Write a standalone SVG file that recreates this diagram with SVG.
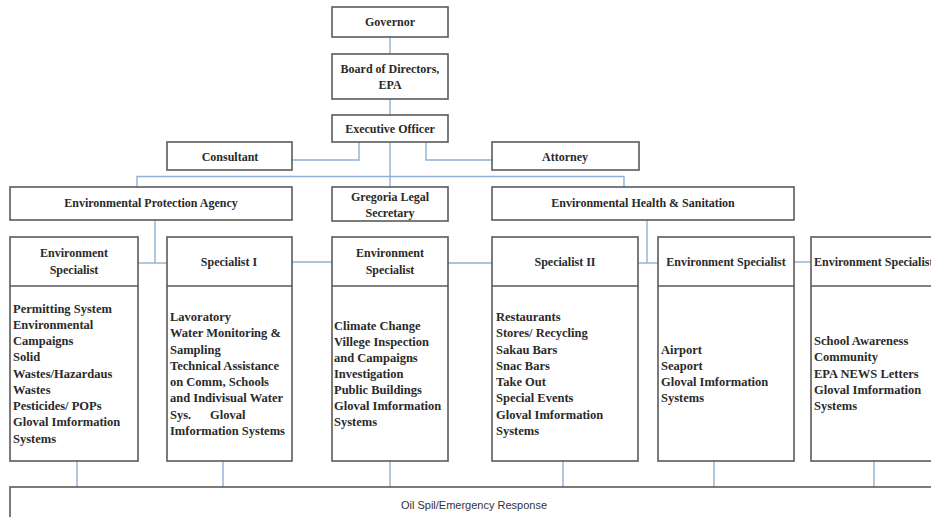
<svg xmlns="http://www.w3.org/2000/svg" width="931" height="517" viewBox="0 0 931 517">
  <style>
    .box { fill: #ffffff; stroke: #5a5a5a; stroke-width: 1.6; }
    .div { stroke: #5a5a5a; stroke-width: 1.6; }
    .link { fill: none; stroke: #8fb0d6; stroke-width: 1.4; }
    .t { font-family: "Liberation Serif", "Times New Roman", serif; font-weight: bold; font-size: 12px; fill: #2a2a2a; }
    .b { font-size: 12.5px; }
    .c { text-anchor: middle; }
    .foot { font-family: "Liberation Sans", Arial, sans-serif; font-size: 11px; fill: #333333; text-anchor: middle; }
  </style>
  <rect width="931" height="517" fill="#ffffff"/>

  <!-- connectors -->
  <g id="connectors">
    <path class="link" d="M390 37 V54"/>
    <path class="link" d="M390 99 V115"/>
    <path class="link" d="M390 142 V187"/>
    <path class="link" d="M359 142 V160 H292"/>
    <path class="link" d="M426 142 V160 H492"/>
    <path class="link" d="M137 187 V176.5 H624 V187"/>
    <path class="link" d="M155 220 V263"/>
    <path class="link" d="M138 263 H167"/>
    <path class="link" d="M292 262 H332"/>
    <path class="link" d="M448 263 H492"/>
    <path class="link" d="M647 220 V263"/>
    <path class="link" d="M638 263 H658"/>
    <path class="link" d="M794 262 H811"/>
    <path class="link" d="M77 461 V487"/>
    <path class="link" d="M223 461 V487"/>
    <path class="link" d="M390 461 V487"/>
    <path class="link" d="M563 461 V487"/>
    <path class="link" d="M714 461 V487"/>
    <path class="link" d="M874 461 V487"/>
  </g>

  <!-- top chain -->
  <g id="governor">
    <rect class="box" x="332" y="7" width="116" height="30"/>
    <text class="t c" x="390" y="26">Governor</text>
  </g>
  <g id="board">
    <rect class="box" x="332" y="54" width="116" height="45"/>
    <text class="t c" x="390" y="73">Board of Directors,</text>
    <text class="t c" x="390" y="89">EPA</text>
  </g>
  <g id="executive">
    <rect class="box" x="332" y="115" width="116" height="27"/>
    <text class="t c" x="390" y="133">Executive Officer</text>
  </g>
  <g id="consultant">
    <rect class="box" x="167" y="142" width="125" height="28"/>
    <text class="t c" x="230" y="161">Consultant</text>
  </g>
  <g id="attorney">
    <rect class="box" x="492" y="142" width="147" height="28"/>
    <text class="t c" x="565" y="161">Attorney</text>
  </g>

  <!-- departments -->
  <g id="epa">
    <rect class="box" x="10" y="187" width="282" height="33"/>
    <text class="t c" x="151" y="207">Environmental Protection Agency</text>
  </g>
  <g id="legal-secretary">
    <rect class="box" x="332" y="187" width="116" height="34"/>
    <text class="t c" x="390" y="201">Gregoria Legal</text>
    <text class="t c" x="390" y="217">Secretary</text>
  </g>
  <g id="health-sanitation">
    <rect class="box" x="492" y="187" width="302" height="33"/>
    <text class="t c" x="643" y="207">Environmental Health &amp; Sanitation</text>
  </g>

  <!-- specialist columns -->
  <g id="col1">
    <rect class="box" x="10" y="237" width="128" height="224"/>
    <line class="div" x1="10" y1="286" x2="138" y2="286"/>
    <text class="t c" x="74" y="257">Environment</text>
    <text class="t c" x="74" y="274">Specialist</text>
    <text class="t b" x="13" y="313">Permitting System</text>
    <text class="t b" x="13" y="329">Environmental</text>
    <text class="t b" x="13" y="345">Campaigns</text>
    <text class="t b" x="13" y="361">Solid</text>
    <text class="t b" x="13" y="378">Wastes/Hazardaus</text>
    <text class="t b" x="13" y="394">Wastes</text>
    <text class="t b" x="13" y="410">Pesticides/ POPs</text>
    <text class="t b" x="13" y="426">Gloval Imformation</text>
    <text class="t b" x="13" y="443">Systems</text>
  </g>
  <g id="col2">
    <rect class="box" x="167" y="237" width="125" height="224"/>
    <line class="div" x1="167" y1="286" x2="292" y2="286"/>
    <text class="t c" x="229" y="266">Specialist I</text>
    <text class="t b" x="170" y="321">Lavoratory</text>
    <text class="t b" x="170" y="337">Water Monitoring &amp;</text>
    <text class="t b" x="170" y="354">Sampling</text>
    <text class="t b" x="170" y="370">Technical Assistance</text>
    <text class="t b" x="170" y="386">on Comm, Schools</text>
    <text class="t b" x="170" y="402">and Indivisual Water</text>
    <text class="t b" x="170" y="419" xml:space="preserve">Sys.      Gloval</text>
    <text class="t b" x="170" y="435">Imformation Systems</text>
  </g>
  <g id="col3">
    <rect class="box" x="332" y="237" width="116" height="224"/>
    <line class="div" x1="332" y1="286" x2="448" y2="286"/>
    <text class="t c" x="390" y="257">Environment</text>
    <text class="t c" x="390" y="274">Specialist</text>
    <text class="t b" x="334" y="330">Climate Change</text>
    <text class="t b" x="334" y="346">Villege Inspection</text>
    <text class="t b" x="334" y="362">and Campaigns</text>
    <text class="t b" x="334" y="378">Investigation</text>
    <text class="t b" x="334" y="394">Public Buildings</text>
    <text class="t b" x="334" y="410">Gloval Imformation</text>
    <text class="t b" x="334" y="426">Systems</text>
  </g>
  <g id="col4">
    <rect class="box" x="492" y="237" width="146" height="224"/>
    <line class="div" x1="492" y1="286" x2="638" y2="286"/>
    <text class="t c" x="565" y="266">Specialist II</text>
    <text class="t b" x="496" y="321">Restaurants</text>
    <text class="t b" x="496" y="337">Stores/ Recycling</text>
    <text class="t b" x="496" y="354">Sakau Bars</text>
    <text class="t b" x="496" y="370">Snac Bars</text>
    <text class="t b" x="496" y="386">Take Out</text>
    <text class="t b" x="496" y="402">Special Events</text>
    <text class="t b" x="496" y="419">Gloval Imformation</text>
    <text class="t b" x="496" y="435">Systems</text>
  </g>
  <g id="col5">
    <rect class="box" x="658" y="237" width="136" height="224"/>
    <line class="div" x1="658" y1="286" x2="794" y2="286"/>
    <text class="t c" x="726" y="266">Environment Specialist</text>
    <text class="t b" x="661" y="354">Airport</text>
    <text class="t b" x="661" y="370">Seaport</text>
    <text class="t b" x="661" y="386">Gloval Imformation</text>
    <text class="t b" x="661" y="402">Systems</text>
  </g>
  <g id="col6">
    <rect class="box" x="811" y="237" width="140" height="224"/>
    <line class="div" x1="811" y1="286" x2="951" y2="286"/>
    <text class="t" x="814" y="266">Environment Specialist</text>
    <text class="t b" x="814" y="345">School Awareness</text>
    <text class="t b" x="814" y="361">Community</text>
    <text class="t b" x="814" y="378">EPA NEWS Letters</text>
    <text class="t b" x="814" y="394">Gloval Imformation</text>
    <text class="t b" x="814" y="410">Systems</text>
  </g>

  <!-- shared response unit -->
  <g id="oil-spill">
    <rect class="box" x="10" y="487" width="941" height="45"/>
    <text class="foot" x="474" y="509">Oil Spil/Emergency Response</text>
  </g>
</svg>
